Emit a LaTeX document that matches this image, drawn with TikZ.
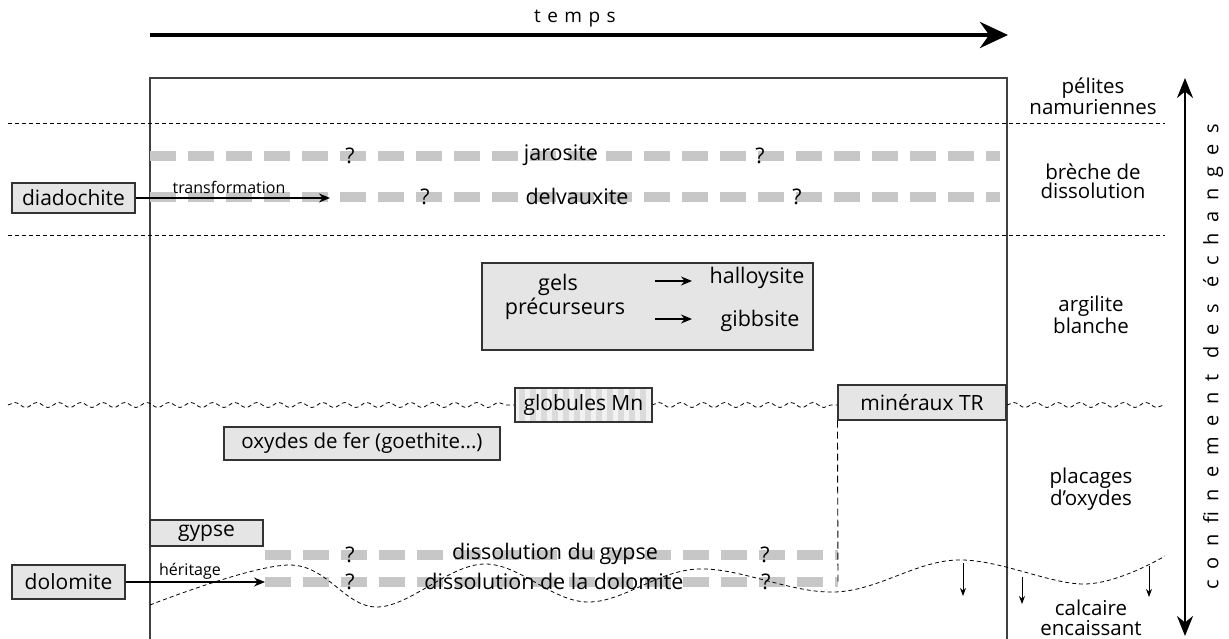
\documentclass[tikz,border=0pt]{standalone}
\usepackage{fontspec}
\setmainfont{Open Sans}
\newfontfamily\spacedfont[LetterSpace=34]{Open Sans}
\newfontfamily\widefont[LetterSpace=54]{Open Sans}
\usetikzlibrary{arrows.meta,decorations.pathmorphing}
\begin{document}
\begin{tikzpicture}[x=1pt,y=-1pt,
  box/.style={draw=black!80, fill=black!10, line width=1.1pt, inner sep=0pt, font=\fontsize{21}{23}\selectfont},
  lbl/.style={font=\fontsize{21.5}{23}\selectfont, inner sep=0pt},
  small/.style={font=\fontsize{16}{17}\selectfont, inner sep=0pt},
  layer/.style={font=\fontsize{20.5}{19.5}\selectfont, align=center, inner sep=0pt},
  graybar/.style={draw=black!22, line width=10pt, dash pattern=on 26pt off 12pt},
  thindash/.style={draw=black, line width=0.8pt, dash pattern=on 4pt off 3pt},
  frame/.style={draw=black!75, line width=1.2pt},
  arr/.style={-{Stealth[length=11pt,width=9pt]}, line width=1.4pt},
  darr/.style={-{Stealth[length=8pt,width=6pt]}, line width=0.8pt}
]
\useasboundingbox (0,0) rectangle (1229,639);

% time arrow
\coordinate (t0) at (150,35);
\coordinate (t1) at (1008,35);
\draw[line width=4pt, -{Stealth[length=28pt,width=26pt]}] (t0) -- (t1);
\node[font=\spacedfont\fontsize{19}{20}\selectfont, inner sep=0pt] (temps) at (575,19) {temps};

% main frame
\draw[frame] (150,639) -- (150,78) -- (1007,78) -- (1007,639);

% layer boundaries
\draw[thindash] (8,123) -- (1165,123);
\draw[thindash] (8,235) -- (1165,235);

% gray bars
\coordinate (j0) at (150,156); \coordinate (j1) at (1000,156);
\draw[graybar] (j0) -- (j1);
\coordinate (d0) at (150,197); \coordinate (d1) at (1000,197);
\draw[graybar] (d0) -- (d1);
\coordinate (g0) at (265,555); \coordinate (g1) at (838,555);
\draw[graybar] (g0) -- (g1);
\coordinate (o0) at (265,582); \coordinate (o1) at (838,582);
\draw[graybar] (o0) -- (o1);

\node[lbl] (q1) at (350,156) {?};
\node[lbl] (jaro) at (561,155) {jarosite};
\node[lbl] (q2) at (760,156) {?};
\node[lbl] (q3) at (425,197) {?};
\node[lbl] (delv) at (577,196) {delvauxite};
\node[lbl] (q4) at (797,197) {?};

% diadochite
\node[box, minimum width=123pt, minimum height=30pt] (diad) at (73.5,198) {diadochite};
\coordinate (diadend) at (330,198);
\draw[arr] (diad.east) -- (diadend);
\node[small] (transf) at (229,187) {transformation};

% gels box
\node[box, minimum width=331pt, minimum height=87pt] (gels) at (647.5,306.5) {};
\node[lbl] (gelst) at (558,285) {gels};
\node[lbl] (prec) at (565,309) {précurseurs};
\coordinate (a1s) at (655,281); \coordinate (a1e) at (692,281);
\coordinate (a2s) at (655,319); \coordinate (a2e) at (692,319);
\draw[arr] (a1s) -- (a1e);
\draw[arr] (a2s) -- (a2e);
\node[lbl] (hall) at (757,278) {halloysite};
\node[lbl] (gibb) at (760,321) {gibbsite};

% wavy boundary
\draw[thindash, decorate, decoration={snake, amplitude=2.5pt, segment length=22pt}] (8,405) -- (515,405);
\draw[thindash, decorate, decoration={snake, amplitude=2.5pt, segment length=22pt}] (652,405) -- (838,405);
\draw[thindash, decorate, decoration={snake, amplitude=2.5pt, segment length=22pt}] (1007,405) -- (1165,405);

% globules Mn
\node[box, fill=black!5, minimum width=137pt, minimum height=34pt,
  path picture={\foreach \i in {0,...,12}
    \fill[black!14] ([xshift=\i*11pt+4pt]path picture bounding box.south west) rectangle ++(6pt,34pt);}] (glob) at (583.5,405) {globules Mn};

% minéraux TR
\node[box, minimum width=168pt, minimum height=35pt] (mtr) at (922,402.5) {minéraux TR};
\coordinate (vd) at (838,583);
\draw[dash pattern=on 7pt off 4pt, line width=0.9pt] (mtr.south west) -- (vd);

% oxydes
\node[box, minimum width=276pt, minimum height=33pt, font=\fontsize{20.5}{22}\selectfont] (oxy) at (362,443.5) {oxydes de fer (goethite...)};

% gypse
\node[box, minimum width=113pt, minimum height=26pt] (gyp) at (206.5,533) {gypse};
\node[lbl] (q5) at (350,555) {?};
\node[lbl] (dg) at (555,554) {dissolution du gypse};
\node[lbl] (q6) at (765,555) {?};

% dolomite
\node[box, minimum width=113pt, minimum height=34pt] (dol) at (68.5,582) {dolomite};
\coordinate (dolend) at (265,582);
\draw[arr] (dol.east) -- (dolend);
\node[small] (her) at (190,571) {héritage};
\node[lbl] (q7) at (350,582) {?};
\node[lbl] (dd) at (554,581) {dissolution de la dolomite};
\node[lbl] (q8) at (766,582) {?};

% wavy lower limit
\draw[thindash] plot[smooth, tension=0.6] coordinates {(150,605) (290,565) (377,607) (484,564) (587,602) (698,569) (835,592) (957,560) (1085,584) (1165,556)};
\coordinate (w1a) at (963,563); \coordinate (w1b) at (963,596);
\coordinate (w2a) at (1022,577); \coordinate (w2b) at (1022,604);
\coordinate (w3a) at (1149,566); \coordinate (w3b) at (1149,597);
\draw[darr] (w1a) -- (w1b);
\draw[darr] (w2a) -- (w2b);
\draw[darr] (w3a) -- (w3b);

% layer names
\node[layer] (pel) at (1093,96) {pélites\\namuriennes};
\node[layer] (bre) at (1093,181) {brèche de\\dissolution};
\node[layer] (arg) at (1091,315) {argilite\\blanche};
\node[layer] (plac) at (1091,489) {placages\\d'oxydes};
\node[layer] (calc) at (1091,618) {calcaire\\encaissant};

% confinement arrow
\coordinate (c0) at (1185,78); \coordinate (c1) at (1185,636);
\draw[line width=2.5pt, {Stealth[length=20pt,width=16pt]}-{Stealth[length=20pt,width=16pt]}] (c0) -- (c1);
\node[rotate=90, font=\widefont\fontsize{20}{22}\selectfont, inner sep=0pt] (conf) at (1213,357) {confinement des échanges};
\end{tikzpicture}
\end{document}
